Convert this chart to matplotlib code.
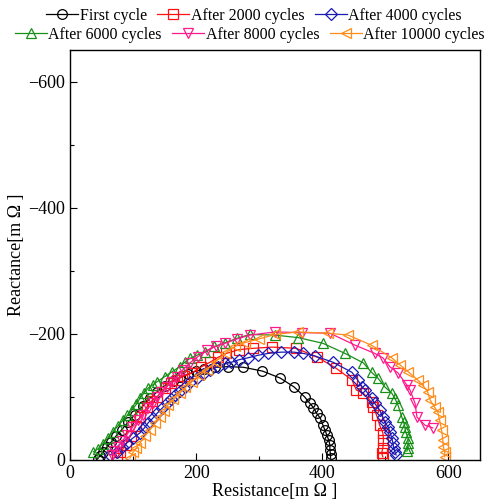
import matplotlib
matplotlib.use("Agg")
import matplotlib.pyplot as plt
from matplotlib.ticker import MultipleLocator

plt.rcParams['font.family'] = ['Liberation Serif', 'DejaVu Serif']
plt.rcParams['mathtext.fontset'] = 'stix'

labels = ["First cycle", "After 2000 cycles", "After 4000 cycles",
          "After 6000 cycles", "After 8000 cycles", "After 10000 cycles"]
colors = ["#000000", "#ff1010", "#1a1ab4", "#189018", "#ff1a8c", "#ff8c1a"]
markers = ["o", "s", "D", "^", "v", "<"]

r_first = [44,47,52,58,65,73,82,92,103,115,127,138,150,163,175,187,200,213,230,251,275,305,333,355,372,380,386,391,397,401,404,407,410,412,412,413,413]
x_first = [-2,-6,-12,-20,-28,-38,-48,-60,-72,-85,-98,-108,-118,-126,-131,-136,-141,-144,-147,-148,-147,-141,-130,-116,-100,-90,-83,-74,-66,-55,-48,-40,-32,-24,-16,-9,-3]

r_2000 = [74,80,88,96,104,111,122,130,138,150,160,169,180,193,207,222,235,248,268,290,320,359,392,421,447,454,465,478,481,486,491,496,497,496,494,496]
x_2000 = [-3,-12,-24,-38,-54,-68,-84,-94,-100,-114,-122,-127,-133,-138,-147,-155,-163,-169,-175,-177,-179,-177,-163,-146,-127,-111,-106,-92,-84,-71,-55,-43,-32,-19,-11,-5]

r_4000 = [63,74,82,90,100,111,118,124,131,138,146,153,160,166,174,182,191,201,211,222,235,245,256,268,282,298,314,335,355,370,388,417,447,456,463,468,478,483,491,496,499,504,507,510,512,513,515,517]
x_4000 = [-8,-13,-20,-27,-35,-43,-51,-59,-66,-74,-82,-90,-96,-103,-110,-116,-123,-130,-137,-143,-148,-153,-155,-159,-162,-166,-169,-171,-171,-169,-165,-155,-139,-127,-116,-111,-98,-90,-79,-68,-60,-53,-45,-35,-27,-19,-13,-8]

r_6000 = [37,45,52,60,68,76,84,91,98,105,111,117,124,131,138,150,162,174,182,190,201,214,229,246,265,285,325,362,401,436,465,478,488,499,510,515,520,526,529,531,532,536,536,536,534]
x_6000 = [-13,-18,-26,-35,-45,-54,-63,-71,-79,-88,-98,-106,-114,-119,-124,-132,-140,-148,-155,-161,-166,-171,-180,-186,-193,-199,-198,-194,-185,-169,-154,-139,-130,-116,-106,-98,-87,-68,-60,-52,-45,-35,-27,-19,-14]

r_8000 = [66,70,76,83,90,99,108,116,124,131,138,145,153,161,169,179,190,203,217,231,246,265,285,325,368,412,452,483,496,507,520,534,539,547,550,563,575]
x_8000 = [-8,-14,-21,-30,-40,-52,-63,-72,-82,-91,-100,-108,-116,-124,-132,-143,-154,-164,-174,-180,-185,-192,-198,-203,-202,-201,-182,-169,-162,-148,-138,-119,-111,-90,-68,-55,-51]

r_10000 = [95,100,105,111,119,127,135,143,149,155,164,174,183,193,205,217,231,246,261,277,300,325,361,409,441,478,510,523,536,551,559,567,571,578,583,586,589,591,592,594,594]
x_10000 = [-3,-12,-19,-27,-38,-48,-58,-68,-77,-87,-96,-106,-115,-124,-134,-143,-156,-169,-180,-186,-192,-199,-203,-201,-198,-182,-162,-151,-140,-127,-119,-108,-95,-84,-76,-63,-48,-32,-21,-13,-5]

series_r = [r_first, r_2000, r_4000, r_6000, r_8000, r_10000]
series_x = [x_first, x_2000, x_4000, x_6000, x_8000, x_10000]
msizes = [7, 7, 6, 7.5, 7.5, 7.5]

fig = plt.figure(figsize=(4.84, 5.04), dpi=100)
ax = fig.add_axes([70/484, 1-460/504, 410/484, 410/504])

handles = []
for r, x, c, m, lab, ms in zip(series_r, series_x, colors, markers, labels, msizes):
    h, = ax.plot(r, x, color=c, marker=m, markersize=ms, markerfacecolor='none',
                 markeredgecolor=c, markeredgewidth=0.9, linewidth=0.9, label=lab)
    handles.append(h)

ax.set_xlim(0, 650)
ax.set_ylim(0, -650)
ax.xaxis.set_major_locator(MultipleLocator(200))
ax.xaxis.set_minor_locator(MultipleLocator(100))
ax.yaxis.set_major_locator(MultipleLocator(200))
ax.yaxis.set_minor_locator(MultipleLocator(100))
ax.tick_params(which='both', direction='in', top=False, right=False, labelsize=13)
ax.tick_params(which='major', length=5, width=0.8)
ax.tick_params(which='minor', length=3, width=0.8)
for s in ax.spines.values():
    s.set_linewidth(1.0)

ax.set_xlabel("Resistance[m Ω ]", fontsize=13, labelpad=1)
ax.set_ylabel("Reactance[m Ω ]", fontsize=13, labelpad=2)

common = dict(loc='center', ncol=3, frameon=False, fontsize=11.5, handlelength=2.0,
              handletextpad=0.1, columnspacing=0.65, borderpad=0, borderaxespad=0)
fig.legend(handles=handles[:3], bbox_to_anchor=(254/484, 1-16/504), **common)
fig.legend(handles=handles[3:], bbox_to_anchor=(250/484, 1-35/504), **common)

fig.savefig("out.png", dpi=100)
